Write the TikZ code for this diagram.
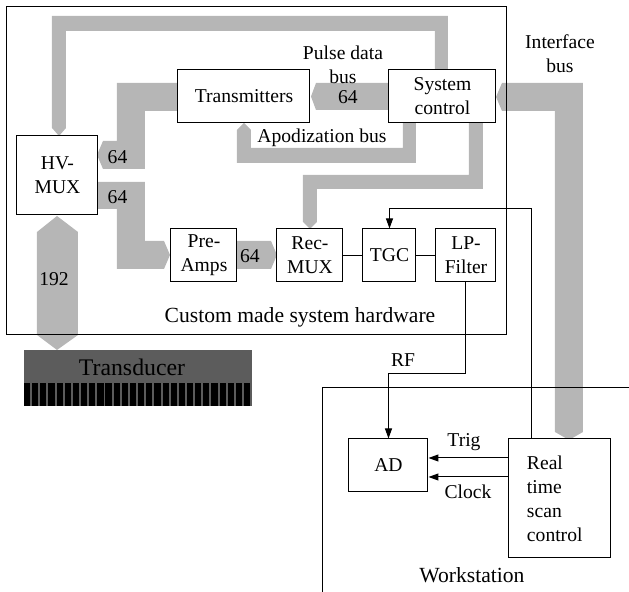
\documentclass[tikz,border=0pt]{standalone}
\usepackage{fontspec}
\setmainfont{Liberation Serif}
\usetikzlibrary{arrows.meta}
\definecolor{busgray}{RGB}{182,182,182}
\definecolor{probegray}{RGB}{92,92,92}
\tikzset{
  blk/.style={draw,fill=white,line width=0.5pt,inner sep=0pt,align=center,minimum height=26.5pt},
  bus/.style={fill=busgray,draw=none},
  sig/.style={line width=0.5pt,-{Triangle[length=5pt,width=3.5pt]}},
  lbl/.style={inner sep=0pt,align=center},
  biglbl/.style={lbl,font=\fontsize{10.8}{13}\selectfont},
}

\begin{document}
\begin{tikzpicture}[x=0.5pt,y=-0.5pt,font=\fontsize{9.8}{12}\selectfont]
  \useasboundingbox (0,0) rectangle (629,592);
  % data buses (drawn first, boxes sit on top)
  \fill[bus] (52,128) -- (59,136) -- (66,128) -- (66,31) -- (435,31) -- (435,70)
    -- (448,70) -- (448,16) -- (52,16) -- cycle;
  \fill[bus] (389,83) -- (316,83) -- (311,96.5) -- (316,110) -- (389,110) -- cycle;
  \fill[bus] (178,83) -- (117,83) -- (117,141) -- (103,141) -- (97,155) -- (103,169)
    -- (145,169) -- (145,111) -- (178,111) -- cycle;
  \fill[bus] (416,123) -- (416,163) -- (237,163) -- (237,130) -- (244,123) -- (251,130)
    -- (251,148) -- (403,148) -- (403,123) -- cycle;
  \fill[bus] (483,123) -- (483,189) -- (317,189) -- (317,222) -- (310,229) -- (303,222)
    -- (303,175) -- (469,175) -- (469,123) -- cycle;
  \fill[bus] (98,182) -- (145,182) -- (145,241) -- (164,241) -- (170,255) -- (164,269)
    -- (117,269) -- (117,209) -- (98,209) -- cycle;
  \fill[bus] (237,241) -- (271,241) -- (277,255) -- (271,269) -- (237,269) -- cycle;
  \fill[bus] (37,232) -- (57,216) -- (78,232) -- (78,335) -- (57,350) -- (37,335) -- cycle;
  \fill[bus] (502,83) -- (583,83) -- (583,432) -- (569,440) -- (555,432) -- (555,111)
    -- (502,111) -- (496,97) -- cycle;

  % transducer array
  \fill[probegray] (24,350) rectangle (252,406);
  \foreach \i in {0,...,27}
    \fill[black] (24+\i*8.15,383) rectangle ++(6.2,23);
  \node[lbl,font=\fontsize{11.9}{14}\selectfont] (trd) at (132,367) {Transducer};

  % enclosures
  \draw[line width=0.5pt] (7,7) rectangle (506.5,335);
  \draw[line width=0.5pt] (323,592) -- (323,388) -- (629,388);
  \node[biglbl] (hwlbl) at (300,317) {Custom made system hardware};
  \node[biglbl] (wslbl) at (472,575) {Workstation};

  % blocks
  \node[blk,minimum width=66pt] (tx) at (244,96.5) {Transmitters};
  \node[blk,minimum width=53.5pt] (sys) at (442.5,96.5) {System\\control};
  \node[blk,minimum width=40.5pt,minimum height=39.5pt] (hv) at (57.5,175.5) {HV-\\MUX};
  \node[blk,minimum width=33pt] (pre) at (204,255.5) {Pre-\\Amps};
  \node[blk,minimum width=33pt] (rec) at (310,255.5) {Rec-\\MUX};
  \node[blk,minimum width=26.5pt] (tgc) at (389.5,255.5) {TGC};
  \node[blk,minimum width=30pt] (lpf) at (466,255.5) {LP-\\Filter};
  \node[blk,minimum width=39.5pt] (ad) at (388.5,465.5) {AD};
  \node[blk,minimum height=59.5pt,align=left,text width=33pt,inner xsep=9pt] (rts)
    at (560,498.5) {Real\\time\\scan\\control};

  % bus labels
  \node[lbl] (pdlbl) at (343,64.5) {Pulse data\\bus};
  \node[lbl] (pdw) at (348,97) {64};
  \node[lbl] (apolbl) at (322,138) {Apodization bus};
  \node[lbl] (iflbl) at (560,54) {Interface\\bus};
  \node[lbl] (txw) at (117.5,157) {64};
  \node[lbl] (hvw) at (117.5,197) {64};
  \node[lbl] (prew) at (250,256) {64};
  \node[lbl] (trdw) at (54,279) {192};

  % signal wires
  \draw[line width=0.5pt] (rec) -- (tgc);
  \draw[line width=0.5pt] (tgc) -- (lpf);
  \draw[sig] ([xshift=-14pt]rts.north) |- ([yshift=10pt]tgc.north) -- (tgc.north);
  \coordinate (rfbend) at (388.5,374);
  \draw[sig] (lpf.south) |- (rfbend) -- (ad.north);
  \node[lbl] (rflbl) at (403,360) {RF};
  \draw[sig] (rts.west |- 0,458) -- (ad.east |- 0,458);
  \draw[sig] (rts.west |- 0,477) -- (ad.east |- 0,477);
  \node[lbl] (trglbl) at (464,442) {Trig};
  \node[lbl] (clklbl) at (468,492) {Clock};
\end{tikzpicture}
\end{document}
